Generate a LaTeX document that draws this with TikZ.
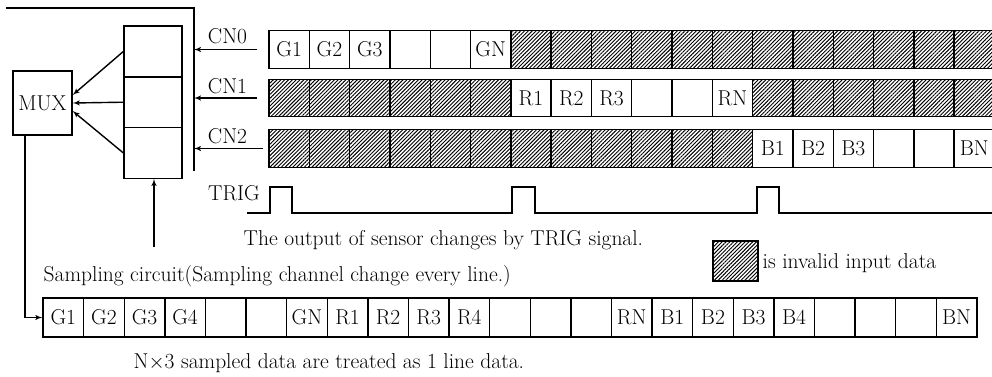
\documentclass[tikz,border=0pt]{standalone}
\usetikzlibrary{arrows, patterns.meta}

\begin{document}
\begin{tikzpicture}[x=1pt, y=-1pt, node distance=40.3pt, line width=1.4pt, font=\fontsize{21.5}{25}\selectfont]
    \tikzstyle{block} = [draw, rectangle, minimum width=59pt, minimum height=64pt, inner sep=0pt]
    \tikzstyle{regbox} = [draw, rectangle, minimum width=58pt, minimum height=50.7pt, node distance=50.7pt]
    \tikzstyle{cell} = [draw, rectangle, minimum width=40.3pt, minimum height=37.5pt, inner sep=0pt]
    \tikzstyle{invalid} = [cell, pattern={Lines[angle=45, distance=2.7pt, line width=0.95pt]}]
    \tikzstyle{outcell} = [cell, minimum width=40.6pt, minimum height=39pt]
    \tikzstyle{note} = [anchor=base west, inner sep=0pt]
    \tikzstyle{line} = [draw, -latex']

    \useasboundingbox (0,0) rectangle (992,376);

    % multiplexer and sampling register
    \node [block] (mux) at (42.5,103) {MUX};
    \node [regbox] (reg0) at (153,51.5) {};
    \node [regbox, below of=reg0] (reg1) {};
    \node [regbox, below of=reg1] (reg2) {};

    % channel bus
    \coordinate (busend) at (6,8);
    \coordinate (bustop) at (194,8);
    \coordinate (busbot) at (194,171);
    \draw (busend) -- (bustop) -- (busbot);

    % CN0 row
    \foreach \lab [count=\i from 0] in {G1,G2,G3,{},{},GN}
        \node [cell] (cn0-\i) at ({289.15+40.3*\i},49.5) {\lab};
    \foreach \i in {6,...,17}
        \node [invalid] (cn0-\i) at ({289.15+40.3*\i},49.5) {};

    % CN1 row
    \foreach \i in {0,...,5,12,13,...,17}
        \node [invalid] (cn1-\i) at ({289.15+40.3*\i},98) {};
    \foreach \lab [count=\i from 6] in {R1,R2,R3,{},{},RN}
        \node [cell] (cn1-\i) at ({289.15+40.3*\i},98) {\lab};

    % CN2 row
    \foreach \i in {0,...,11}
        \node [invalid] (cn2-\i) at ({289.15+40.3*\i},148.5) {};
    \foreach \lab [count=\i from 12] in {B1,B2,B3,{},{},BN}
        \node [cell] (cn2-\i) at ({289.15+40.3*\i},148.5) {\lab};

    \node [anchor=base] (cn0lab) at (227.5,43) {CN0};
    \node [anchor=base] (cn1lab) at (227.5,93) {CN1};
    \node [anchor=base] (cn2lab) at (227.5,143) {CN2};

    \path [line, shorten <=11pt] (cn0-0.west) -- (cn0-0.west -| bustop);
    \path [line, shorten <=11pt] (cn1-0.west) -- (cn1-0.west -| bustop);
    \path [line, shorten <=5pt] (cn2-0.west) -- (cn2-0.west -| bustop);

    \path [line] (reg0.west) -- ([yshift=8pt]mux.east);
    \path [line] (reg1.west) -- (mux.east);
    \path [line] (reg2.west) -- ([yshift=-8pt]mux.east);

    \coordinate (sampfoot) at (154,247);
    \path [line] (sampfoot) -- (sampfoot |- reg2.south);

    % trigger signal
    \node [anchor=base] (trig) at (234,200) {TRIG};
    \draw (247,213) -- (270,213) -- (270,187) -- (292,187) -- (292,213)
        -- (512,213) -- (512,187) -- (535,187) -- (535,213)
        -- (757,213) -- (757,187) -- (779,187) -- (779,213) -- (992,213);

    \node [note] (trignote) at (243,245) {The output of sensor changes by TRIG signal.};
    \node [note] (sampnote) at (43,281) {Sampling circuit(Sampling channel change every line.)};
    \node [invalid, minimum width=45pt, minimum height=40pt] (legend) at (735.5,261) {};
    \node [note] (legendnote) at (762,268) {is invalid input data};

    % sampled line
    \foreach \lab [count=\i from 0] in {G1,G2,G3,G4,{},{},GN,R1,R2,R3,R4,{},{},{},RN,B1,B2,B3,B4,{},{},{},BN}
        \node [outcell] (out-\i) at ({63.3+40.6*\i},317.5) {\lab};
    \path [line] ([xshift=-17.5pt]mux.south) |- (out-0.west);

    \node [note] (linenote) at (133,368) {N$\times$3 sampled data are treated as 1 line data.};
\end{tikzpicture}
\end{document}
